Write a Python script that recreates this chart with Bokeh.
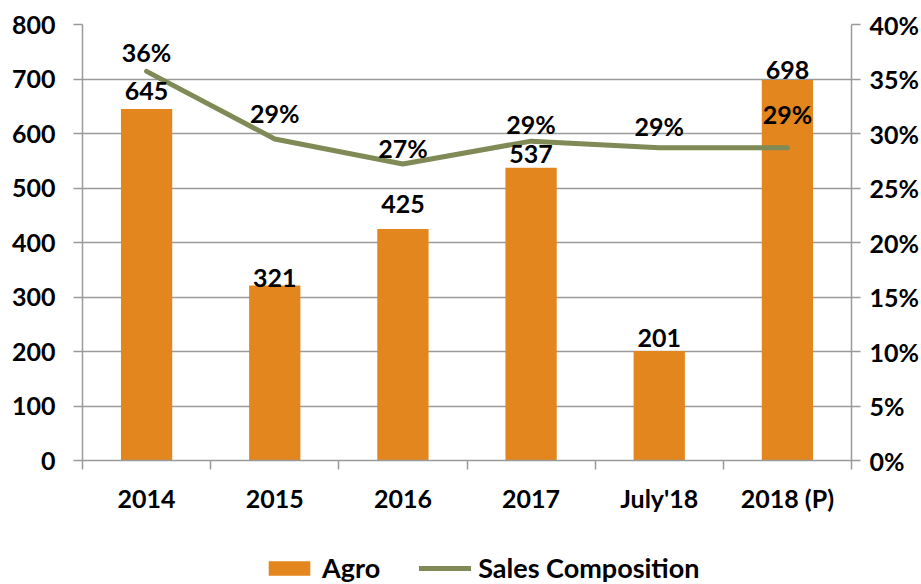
from bokeh.plotting import figure
from bokeh.layouts import column
from bokeh.models import (Range1d, LinearAxis, FixedTicker, ColumnDataSource,
                          LabelSet, Legend, LegendItem, PrintfTickFormatter)
from bokeh.core.properties import value
from bokeh.embed import file_html
from bokeh.resources import INLINE

# ---- data ----
categories = ["2014", "2015", "2016", "2017", "July'18", "2018 (P)"]
agro = [645, 321, 425, 537, 201, 698]
sales_composition = [35.7, 29.5, 27.2, 29.3, 28.7, 28.7]
sales_composition_labels = ["36%", "29%", "27%", "29%", "29%", "29%"]
left_ticks = [0, 100, 200, 300, 400, 500, 600, 700, 800]
right_ticks = [0, 5, 10, 15, 20, 25, 30, 35, 40]
series_names = ["Agro", "Sales Composition"]

# ---- style ----
BAR = "#E3861D"
LINE = "#7F8A57"
GRID = "#9A9A9A"
FONT = "Lato"
FS = "25px"
LEG_FS = "27px"
bar_label_lift = [18, 8, 25, 14, 13, 10]
pct_label_lift = [19, 26, 16, 17, 22, 34]

xpos = [i + 0.5 for i in range(len(categories))]
src = ColumnDataSource(dict(
    x=xpos, agro=agro, agro_txt=[str(v) for v in agro],
    pct=sales_composition, pct_txt=sales_composition_labels,
    bar_lift=bar_label_lift, pct_lift=pct_label_lift,
))

p = figure(width=921, height=530, x_range=Range1d(0, len(categories)),
           y_range=Range1d(left_ticks[0], left_ticks[-1]),
           output_backend="svg", toolbar_location=None,
           min_border_left=82, min_border_right=66,
           min_border_top=24, min_border_bottom=70)
p.extra_y_ranges = {"pct": Range1d(right_ticks[0], right_ticks[-1])}
p.outline_line_color = None
p.background_fill_color = "white"
p.border_fill_color = "white"

# x axis
xa = p.xaxis[0]
xa.ticker = FixedTicker(ticks=xpos, minor_ticks=list(range(len(categories) + 1)))
xa.major_label_overrides = {x: c for x, c in zip(xpos, categories)}
xa.axis_line_color = GRID
xa.axis_line_width = 1.5
xa.major_tick_out = 0
xa.major_tick_in = 0
xa.minor_tick_out = 9
xa.minor_tick_in = 0
xa.minor_tick_line_color = GRID
xa.minor_tick_line_width = 1.5
xa.major_label_standoff = 13

# left y axis
ya = p.yaxis[0]
ya.ticker = FixedTicker(ticks=left_ticks)
ya.axis_line_color = GRID
ya.axis_line_width = 1.5
ya.major_tick_out = 9
ya.major_tick_in = 0
ya.major_tick_line_color = GRID
ya.major_tick_line_width = 1.5
ya.minor_tick_line_color = None
ya.major_label_standoff = 18

# right y axis
ra = LinearAxis(y_range_name="pct", ticker=FixedTicker(ticks=right_ticks),
                formatter=PrintfTickFormatter(format="%d%%"))
ra.axis_line_color = GRID
ra.axis_line_width = 1.5
ra.major_tick_out = 9
ra.major_tick_in = 0
ra.major_tick_line_color = GRID
ra.major_tick_line_width = 1.5
ra.minor_tick_line_color = None
ra.major_label_standoff = 9
p.add_layout(ra, "right")

for ax in (xa, ya, ra):
    ax.major_label_text_font = FONT
    ax.major_label_text_font_style = "bold"
    ax.major_label_text_font_size = FS
    ax.major_label_text_color = "black"

p.xgrid.visible = False
p.ygrid.grid_line_color = GRID
p.ygrid.grid_line_width = 1.5

p.vbar(x="x", top="agro", width=0.4, source=src, fill_color=BAR, line_color=None)
p.line(x="x", y="pct", y_range_name="pct", source=src,
       line_color=LINE, line_width=5, line_cap="round", line_join="round")

bar_labels = LabelSet(x="x", y="agro", text="agro_txt", y_offset="bar_lift",
                      source=src, text_align="center", text_baseline="middle",
                      text_font=value(FONT), text_font_style="bold",
                      text_font_size=value(FS), text_color="black")
pct_labels = LabelSet(x="x", y="pct", text="pct_txt", y_offset="pct_lift",
                      y_range_name="pct", source=src, text_align="center",
                      text_baseline="middle", text_font=value(FONT),
                      text_font_style="bold", text_font_size=value(FS),
                      text_color="black")
p.add_layout(bar_labels)
p.add_layout(pct_labels)

# ---- legend strip below the chart (frames are aligned with the chart) ----
lf = figure(width=921, height=54, x_range=Range1d(0, 1), y_range=Range1d(0, 1),
            output_backend="svg", toolbar_location=None,
            x_axis_location=None, y_axis_location=None, min_border=0)
lf.outline_line_color = None
lf.grid.visible = False
lb = lf.vbar(x="x", top="agro", width=0.4, source=src, fill_color=BAR,
             line_color=None, visible=False)
ll = lf.line(x="x", y="pct", source=src, line_color=LINE, line_width=5,
             line_cap="round", visible=False)
legend = Legend(items=[LegendItem(label=series_names[0], renderers=[lb]),
                       LegendItem(label=series_names[1], renderers=[ll])],
                orientation="horizontal", location=(181, 0),
                glyph_width=52, glyph_height=18, label_standoff=7, spacing=39,
                padding=0, margin=0, border_line_color=None,
                background_fill_alpha=0, inactive_fill_alpha=0,
                label_text_font=FONT, label_text_color="black",
                label_text_font_style="bold", label_text_font_size=LEG_FS,
                label_height=24)
lf.add_layout(legend)

layout = column(p, lf, spacing=0)
open("out.html", "w").write(file_html(layout, INLINE))
